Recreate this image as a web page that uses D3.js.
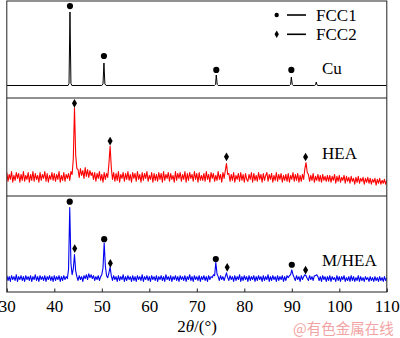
<!DOCTYPE html>
<html><head><meta charset="utf-8">
<script src="https://cdn.jsdelivr.net/npm/d3@7"></script>
<style>body{margin:0;background:#fff}svg{display:block}</style>
</head><body>
<script>
// ---- data ----
const xTicks = [30,40,50,60,70,80,90,100,110];
const sampleNames = ["Cu","HEA","M/HEA"];
const legendNames = ["FCC1","FCC2"];

const cuX = [30,42.9,43.1,43.3,43.5,43.7,50.0,50.25,50.45,50.65,50.9,73.7,73.95,74.1,74.3,74.5,89.5,89.75,89.9,90.1,90.3,94.8,95.0,95.15,95.3,95.5,110];
const cuY = [12.9,12.9,15,88.7,15,12.9,12.9,14.5,36.1,14.5,12.9,12.9,14,23.7,14,12.9,12.9,14,21.6,14,12.9,12.9,13.6,16.5,13.6,12.9,12.9];

const gridStart = 30, gridStep = 0.25; // 2theta sampling of the scans
const heaY = [
24,15,22,17,25,14,21,16,24,18,23,14,22,16,25,15,21,17,24,14,
22,16,25,15,23,17,21,14,24,16,22,18,25,15,23,14,21,17,24,16,
23,15,22,17,25,14,21,16,24,15,22,18,23,16,25,22,
38,90,42,28,
27,19,28,21,26,18,29,20,27,19,26,21,24,
17,24,15,23,18,25,16,22,14,24,17,23,19,
33,51,29,
17,24,15,23,16,25,14,22,18,24,15,23,17,25,16,22,14,24,18,
23,15,25,17,22,14,24,16,23,18,25,15,21,17,24,14,23,16,22,
15,24,17,23,14,25,16,22,18,24,15,23,17,21,14,25,16,23,18,
24,15,22,17,25,14,23,16,24,18,22,15,25,17,23,14,24,16,21,
16,23,15,25,17,22,14,24,18,23,15,21,16,25,17,22,14,24,18,
26,33,22,
23,15,22,16,24,14,21,17,23,15,24,16,22,14,23,17,
15,22,17,24,14,23,16,21,15,24,17,22,14,23,16,21,
24,15,22,17,23,14,21,16,24,15,22,17,23,14,21,16,
22,15,23,14,21,17,24,15,22,16,23,14,21,15,22,17,
28,34,24,
22,15,21,16,23,14,20,16,22,15,21,14,22,16,20,15,21,
15,21,14,20,16,22,13,20,15,21,14,19,16,21,13,20,15,
19,13,20,15,18,12,19,14,20,13,18,15,19,12,18,14,19,
13,18,12,17,14,18,11,17,13,18,12,16,13,17,12,16
];
const mheaY = [
17,12,16,11,17,13,16,12,18,11,16,13,17,12,16,11,17,13,16,12,
17,11,16,13,18,12,16,11,17,13,16,12,17,11,16,13,17,12,16,11,
17,12,16,13,17,11,16,12,17,13,16,14,
24,88,30,18,24,39,22,16,
12,17,13,16,11,17,14,18,13,19,15,18,14,17,12,16,13,17,12,16,18,
25,51,27,17,15,20,26,17,
12,17,13,16,11,17,12,16,13,18,11,16,12,17,13,16,11,17,12,
16,11,17,13,16,12,18,11,16,13,17,12,16,11,17,13,16,12,17,
11,16,13,17,12,16,11,18,13,16,12,17,11,16,13,17,12,16,11,
17,13,16,12,17,11,16,13,18,12,16,11,17,13,16,12,17,11,16,
13,17,12,16,11,17,13,16,15,18,17,
31,19,16,
12,17,13,16,12,
16,20,15,
12,17,13,16,11,17,12,16,13,18,11,16,12,17,13,16,11,17,12,16,13,17,11,16,12,17,
13,16,11,17,12,16,13,18,11,16,12,17,13,16,11,17,12,16,13,17,11,16,12,17,15,17,
18,23,18,15,
12,17,13,16,11,17,13,
16,18,17,14,
12,17,13,16,12,17,
17,18,16,
12,16,11,17,13,16,11,16,12,17,11,16,13,15,11,17,12,16,11,16,13,17,11,15,12,16,11,17,12,
16,11,15,12,17,11,16,12,15,11,16,13,15,11,16,12,15,11,16,12,15,11,16,12,15,11,16,12,15
];

// phase markers: [2theta, intensity]
const cuFcc1 = [[43.3,94.8],[50.45,43.3],[74.1,28.9],[89.9,28.9]];
const heaFcc2 = [[44.25,94.6],[51.75,56],[76.25,40],[92.9,39.8]];
const mheaFcc1 = [[43.25,94.1],[50.5,55],[74.0,34.4],[90.0,28.4]];
const mheaFcc2 = [[44.3,45.3],[51.8,29.9],[76.4,25.7],[92.9,22.9]];

// ---- drawing ----
const W = 400, H = 338;
const left = 6.8, right = 386.8;
const panels = [{top:1,bottom:98},{top:98,bottom:196},{top:196,bottom:292}];
const svg = d3.select("body").append("svg").attr("width",W).attr("height",H);
const serif = "'Liberation Serif','Times New Roman',serif";

const x = d3.scaleLinear().domain([30,110]).range([left,right]);
const ys = panels.map(p => d3.scaleLinear().domain([0,100]).range([p.bottom,p.top]));

function gridX(arr){ return arr.map((v,i)=>[gridStart+i*gridStep, v]); }

svg.append("defs").append("clipPath").attr("id","c")
  .append("rect").attr("x",left).attr("y",1).attr("width",right-left).attr("height",291);

const g = svg.append("g").attr("clip-path","url(#c)");

const series = [
  {pts: cuX.map((d,i)=>[d,cuY[i]]), p:0, color:"#000", w:1},
  {pts: gridX(heaY), p:1, color:"#ff0000", w:1.1},
  {pts: gridX(mheaY), p:2, color:"#0000f0", w:1.1}
];
series.forEach(s=>{
  const line = d3.line().x(d=>x(d[0])).y(d=>ys[s.p](d[1]));
  g.append("path").attr("d",line(s.pts)).attr("fill","none")
   .attr("stroke",s.color).attr("stroke-width",s.w).attr("stroke-linejoin","round");
});

// frames
svg.append("rect").attr("x",left).attr("y",1).attr("width",right-left).attr("height",291)
  .attr("fill","none").attr("stroke","#222").attr("stroke-width",1);
[98,196].forEach(yv=>svg.append("line").attr("x1",left).attr("x2",right).attr("y1",yv).attr("y2",yv)
  .attr("stroke","#222").attr("stroke-width",1));

// bottom axis
const axis = d3.axisBottom(x).tickValues(xTicks).tickSize(-3.5).tickPadding(8).tickFormat(d3.format("d"));
const ag = svg.append("g").attr("transform","translate(0,292)").call(axis);
ag.select(".domain").remove();
ag.selectAll(".tick line").attr("stroke","#222");
ag.selectAll(".tick text").attr("font-family",serif).attr("font-size",17).attr("fill","#000")
  .attr("y",19.5).attr("dy",0);

// markers
const diam = d3.symbol().type(d3.symbolDiamond);
function marks(data,p,type){
  svg.append("g").selectAll("circle,path").data(data).enter().append(type==="c"?"circle":"path")
    .each(function(d){
      const el = d3.select(this);
      if(type==="c") el.attr("cx",x(d[0])).attr("cy",ys[p](d[1])).attr("r",3.1);
      else el.attr("transform",`translate(${x(d[0])},${ys[p](d[1])})`).attr("d",diam.size(22)());
    }).attr("fill","#000");
}
marks(cuFcc1,0,"c");
marks(heaFcc2,1,"d");
marks(mheaFcc1,2,"c");
marks(mheaFcc2,2,"d");

// sample labels
const labelPos = [[322,74],[322,159],[322,266]];
sampleNames.forEach((n,i)=>svg.append("text").attr("x",labelPos[i][0]).attr("y",labelPos[i][1])
  .attr("font-family",serif).attr("font-size",17).text(n));

// legend
const legY = [15,34.3];
legendNames.forEach((n,i)=>{
  const yy = legY[i];
  if(i===0) svg.append("circle").attr("cx",276.7).attr("cy",yy).attr("r",2.2);
  else svg.append("path").attr("transform",`translate(276.7,${yy})`).attr("d",diam.size(16)());
  svg.append("line").attr("x1",287).attr("x2",306).attr("y1",yy).attr("y2",yy).attr("stroke","#000").attr("stroke-width",1.6);
  svg.append("text").attr("x",316).attr("y",yy+6).attr("font-family",serif).attr("font-size",17).text(n);
});

// axis title
const t = svg.append("text").attr("x",197).attr("y",332).attr("text-anchor","middle")
  .attr("font-family",serif).attr("font-size",17);
t.append("tspan").text("2");
t.append("tspan").attr("font-style","italic").text("θ");
t.append("tspan").text("/(°)");

// watermark
svg.append("text").attr("x",293).attr("y",334).attr("font-family","'Noto Sans CJK SC',sans-serif")
  .attr("font-size",14.5).attr("fill","#f2a4a4").text("@有色金属在线");
</script>
</body></html>
